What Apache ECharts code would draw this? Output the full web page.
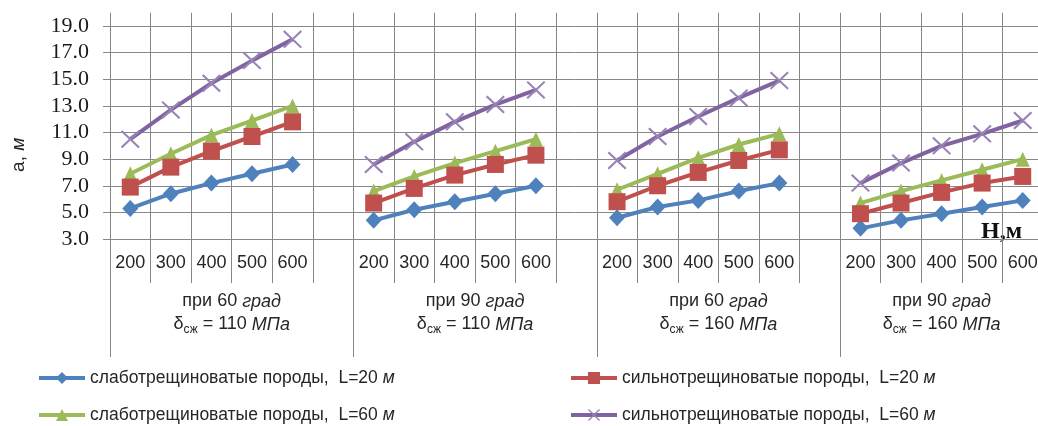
<!DOCTYPE html>
<html>
<head>
<meta charset="utf-8">
<script src="https://cdn.jsdelivr.net/npm/echarts@6/dist/echarts.min.js"></script>
<style>
html,body{margin:0;padding:0;background:#fff;}
#chart{width:1038px;height:426px;}
</style>
</head>
<body>
<div id="chart"></div>
<script>
// ---- data ----
const depths = ['200', '300', '400', '500', '600'];
const groupAngles = ['60', '90', '60', '90'];
const groupStrengths = ['110', '110', '160', '160'];
const yMin = 3, yMax = 20, yStep = 2;

const seriesNames = [
  'слаботрещиноватые породы,  L=20 м',
  'сильнотрещиноватые породы,  L=20 м',
  'слаботрещиноватые породы,  L=60 м',
  'сильнотрещиноватые породы,  L=60 м'
];
// values per group (4 groups x 5 depths)
const weakL20   = [5.3, 6.4, 7.2, 7.9, 8.6,   4.4, 5.2, 5.8, 6.4, 7.0,   4.6, 5.4, 5.9, 6.6, 7.2,   3.8, 4.4, 4.9, 5.4, 5.9];
const strongL20 = [6.9, 8.4, 9.6, 10.7, 11.8, 5.7, 6.8, 7.8, 8.6, 9.3,   5.8, 7.0, 8.0, 8.9, 9.7,   4.9, 5.7, 6.5, 7.2, 7.7];
const weakL60   = [7.9, 9.4, 10.8, 11.9, 13.0, 6.6, 7.7, 8.7, 9.6, 10.5, 6.7, 7.9, 9.1, 10.1, 10.9, 5.7, 6.6, 7.4, 8.2, 9.0];
const strongL60 = [10.5, 12.7, 14.7, 16.4, 18.0, 8.6, 10.3, 11.8, 13.1, 14.2, 8.9, 10.7, 12.2, 13.6, 14.9, 7.2, 8.7, 10.0, 10.9, 11.9];

// ---- build category axis with blank separators between groups ----
const nG = groupAngles.length, nD = depths.length;
const cats = [];
for (let g = 0; g < nG; g++) {
  depths.forEach(d => cats.push(d));
  if (g < nG - 1) cats.push('');
}
function withGaps(vals) {
  const out = [];
  for (let g = 0; g < nG; g++) {
    for (let i = 0; i < nD; i++) out.push(vals[g * nD + i]);
    if (g < nG - 1) out.push('-');
  }
  return out;
}
// secondary (group) axis: half-category points
const nHalf = cats.length * 2 + 1;
const groupCats = new Array(nHalf).fill('');
const groupTickIdx = new Set();
for (let g = 0; g < nG; g++) {
  const start = g * (nD + 1);
  const len = g < nG - 1 ? nD + 1 : nD;
  groupCats[start * 2 + len] = 'при ' + groupAngles[g] + ' {i|град}\nδ{sub|сж} = ' + groupStrengths[g] + ' {i|МПа}';
  groupTickIdx.add(start * 2);
}
groupTickIdx.add(nHalf - 1);

const gridColor = '#878787';
const textColor = '#262626';
const colors = ['#4F81BD', '#C0504D', '#9BBB59', '#8064A2'];
const xSym = 'path://M0,0.8L0.8,0L10,9.2L9.2,10Z M9.2,0L10,0.8L0.8,10L0,9.2Z';

const chart = echarts.init(document.getElementById('chart'), null, {renderer: 'canvas'});

function mkSeries(idx, vals, symbol, size, z, symColor) {
  return {
    name: seriesNames[idx],
    type: 'line',
    xAxisIndex: 0,
    data: withGaps(vals),
    connectNulls: false,
    symbol: symbol,
    symbolSize: size,
    showSymbol: true,
    z: z,
    lineStyle: {color: colors[idx], width: 4},
    itemStyle: {color: symColor || colors[idx], borderWidth: 0},
    emphasis: {disabled: true},
    animation: false
  };
}

const legendRich = {
  i: {fontStyle: 'italic', fontFamily: 'Liberation Sans', fontSize: 17.5, color: textColor}
};
function legendFmt(name) { return name.replace(/ м$/, ' {i|м}'); }
const legendBase = {
  orient: 'vertical',
  top: 368,
  height: 58,
  padding: 0,
  itemWidth: 46,
  itemHeight: 15,
  itemGap: 17,
  formatter: legendFmt,
  lineStyle: {width: 4},
  textStyle: {fontFamily: 'Liberation Sans', fontSize: 17.5, color: textColor, lineHeight: 20, rich: legendRich},
  selectedMode: false
};

chart.setOption({
  animation: false,
  backgroundColor: '#ffffff',
  grid: {left: 110, top: 12.7, width: 933, height: 226.3, containLabel: false, outerBoundsMode: 'none'},
  legend: [
    Object.assign({}, legendBase, {left: 37, data: [seriesNames[0], seriesNames[2]]}),
    Object.assign({}, legendBase, {left: 569, data: [seriesNames[1], seriesNames[3]]})
  ],
  xAxis: [
    {
      type: 'category',
      data: cats,
      boundaryGap: true,
      axisLine: {show: true, lineStyle: {color: gridColor, width: 1}},
      axisTick: {show: true, interval: 0, length: 44, lineStyle: {color: gridColor}},
      axisLabel: {interval: 0, margin: 15, fontFamily: 'Liberation Sans', fontSize: 18, color: textColor},
      splitLine: {show: true, interval: 0, lineStyle: {color: gridColor, width: 1}}
    },
    {
      type: 'category',
      data: groupCats,
      boundaryGap: false,
      position: 'bottom',
      axisLine: {show: false},
      axisTick: {show: true, length: 118, interval: (i) => groupTickIdx.has(i), lineStyle: {color: gridColor}},
      axisLabel: {
        interval: (i, v) => v !== '',
        margin: 51,
        fontFamily: 'Liberation Sans', fontSize: 18, color: textColor, lineHeight: 23,
        rich: {
          i: {fontStyle: 'italic', fontFamily: 'Liberation Sans', fontSize: 18, color: textColor, lineHeight: 23},
          sub: {fontFamily: 'Liberation Sans', fontSize: 12, color: textColor, verticalAlign: 'bottom', lineHeight: 23, padding: [8, 0, 0, 0]}
        }
      },
      splitLine: {show: false}
    }
  ],
  yAxis: {
    type: 'value',
    min: yMin,
    max: yMax,
    interval: yStep,
    name: 'а, {i|м}',
    nameLocation: 'middle',
    nameGap: 82,
    nameRotate: 90,
    nameTextStyle: {
      fontFamily: 'Liberation Sans', fontSize: 19, color: textColor, padding: [0, 58, 0, 0],
      rich: {i: {fontStyle: 'italic', fontFamily: 'Liberation Sans', fontSize: 19, color: textColor}}
    },
    axisLine: {show: false},
    axisTick: {show: true, length: 7, lineStyle: {color: gridColor}},
    axisLabel: {
      margin: 21,
      showMaxLabel: false,
      formatter: v => v.toFixed(1),
      fontFamily: 'Liberation Serif', fontSize: 22, color: '#1a1a1a'
    },
    splitLine: {show: true, showMaxLine: false, lineStyle: {color: gridColor, width: 1}}
  },
  graphic: [{
    type: 'text',
    left: 981,
    top: 220,
    style: {text: 'Н,м', font: 'bold 24px "Liberation Serif"', fill: '#111'}
  }],
  series: [
    mkSeries(0, weakL20, 'diamond', [16, 17], 2),
    mkSeries(2, weakL60, 'triangle', [14, 15], 3),
    mkSeries(1, strongL20, 'rect', 17, 4),
    mkSeries(3, strongL60, xSym, [19, 18], 5, '#9783B6')
  ]
});
</script>
</body>
</html>
